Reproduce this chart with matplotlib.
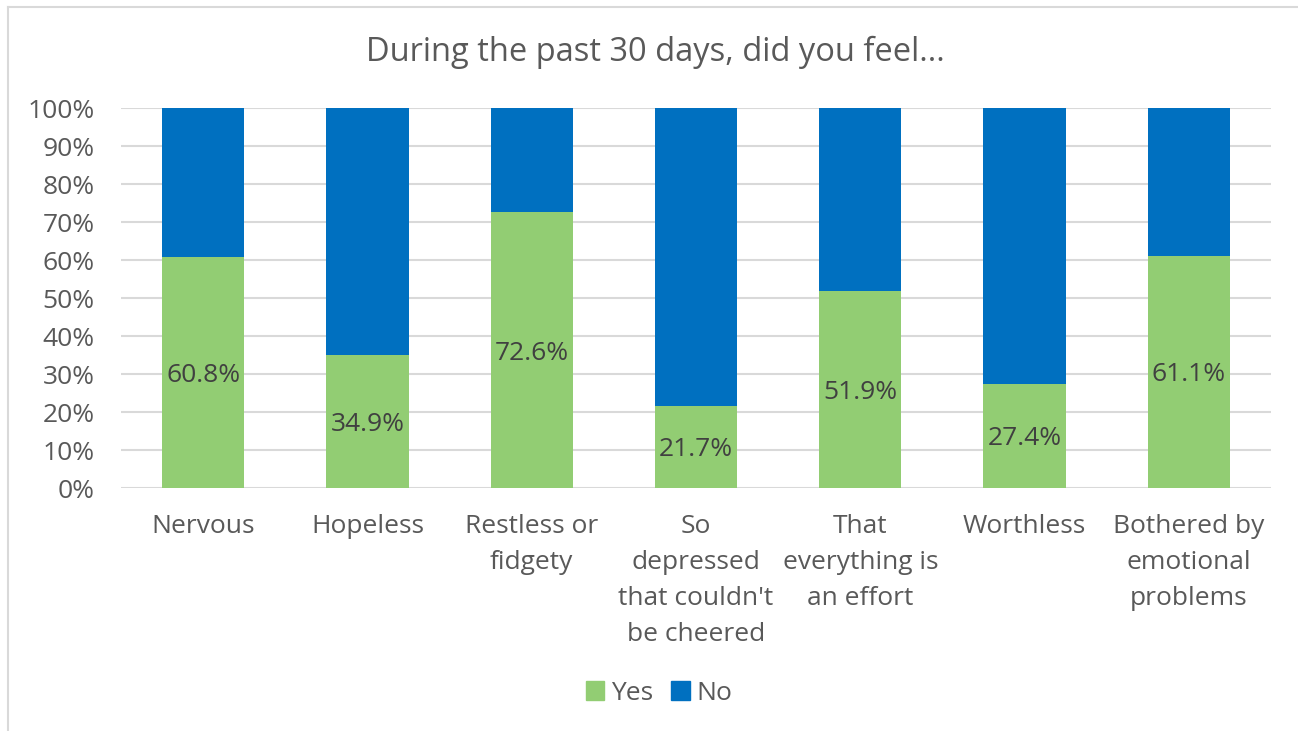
import numpy as np
import matplotlib.pyplot as plt
from matplotlib.lines import Line2D
from matplotlib.ticker import FixedLocator

plt.rcParams['font.family'] = ['Open Sans', 'DejaVu Sans']

categories = ['Nervous', 'Hopeless', 'Restless or\nfidgety',
              'So\ndepressed\nthat couldn\'t\nbe cheered',
              'That\neverything is\nan effort', 'Worthless',
              'Bothered by\nemotional\nproblems']
yes_pct = [60.8, 34.9, 72.6, 21.7, 51.9, 27.4, 61.1]
no_pct = [100 - v for v in yes_pct]

green = '#92CD73'
blue = '#0070C0'
text_gray = '#595959'
grid_gray = '#D9D9D9'

fig = plt.figure(figsize=(12.98, 7.31), dpi=100)
ax = fig.add_axes([121 / 1298, 1 - 488 / 731, 1150 / 1298, 380 / 731])

x = np.arange(len(categories))
ax.bar(x, yes_pct, 0.5, color=green, label='Yes', zorder=3)
ax.bar(x, no_pct, 0.5, bottom=yes_pct, color=blue, label='No', zorder=3)

for xi, v in zip(x, yes_pct):
    ax.text(xi, v / 2, f'{v:.1f}%', ha='center', va='center_baseline',
            fontsize=19, color='#404040', zorder=4)

ax.set_xlim(-0.5, len(categories) - 0.5)
ax.set_ylim(0, 100)
ax.yaxis.set_major_locator(FixedLocator(np.arange(0, 101, 10)))
ax.set_yticklabels([f'{t}%' for t in range(0, 101, 10)])
ax.set_xticks(x)
ax.set_xticklabels(categories, linespacing=1.58, va='top')
ax.tick_params(axis='both', length=0, labelsize=19, labelcolor=text_gray)
ax.tick_params(axis='x', pad=19)
ax.tick_params(axis='y', pad=19)
ax.grid(axis='y', color=grid_gray, linewidth=1.5, zorder=0)
for s in ax.spines.values():
    s.set_visible(False)

fig.text(655 / 1298, 1 - 52 / 731, 'During the past 30 days, did you feel...',
         ha='center', va='center', fontsize=23.5, color=text_gray)

handles = [plt.Rectangle((0, 0), 1, 1, color=green),
           plt.Rectangle((0, 0), 1, 1, color=blue)]
fig.legend(handles, ['Yes', 'No'], loc='center', ncol=2,
           bbox_to_anchor=(659 / 1298, 1 - 693 / 731), frameon=False,
           fontsize=19, labelcolor=text_gray, handlelength=0.7,
           handleheight=0.7, handletextpad=0.25, columnspacing=0.7)

# chart frame: top and left edges only
fig.add_artist(Line2D([8 / 1298, 1], [1 - 7 / 731, 1 - 7 / 731],
                      color=grid_gray, linewidth=1.5))
fig.add_artist(Line2D([8 / 1298, 8 / 1298], [0, 1 - 7 / 731],
                      color=grid_gray, linewidth=1.5))

fig.savefig('out.png', dpi=100)
